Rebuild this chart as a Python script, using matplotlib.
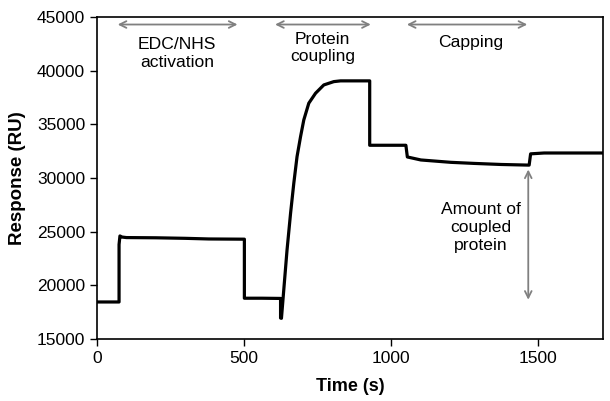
import matplotlib.pyplot as plt

plt.rcParams['font.family'] = ['Liberation Sans', 'DejaVu Sans']

# sensorgram trace (time in s, response in RU)
time = [0, 75, 75, 78, 85, 100, 200, 300, 380, 501, 501, 560, 624, 624, 627,
        633, 646, 658, 669, 680, 692, 703, 720, 743, 771, 805, 828,
        927, 927, 1050, 1055, 1101, 1203, 1282, 1374, 1469, 1474, 1520, 1720]
response = [18450, 18450, 23800, 24600, 24500, 24450, 24430, 24380, 24320, 24300,
            18800, 18800, 18780, 16950, 16930,
            18940, 23290, 26710, 29510, 31990, 33860, 35410, 36970, 37900, 38670,
            38980, 39050, 39050,
            33050, 33050, 31960, 31680, 31460, 31360, 31260, 31200, 32250, 32330, 32330]

# phase annotations
phases = ["EDC/NHS\nactivation", "Protein\ncoupling", "Capping"]
phase_start = [61, 596, 1044]
phase_end = [487, 940, 1472]
phase_text_x = [273, 767, 1271]
phase_text_y = [41600, 42100, 42600]

fig = plt.figure(figsize=(6.1, 4.01), dpi=100)
ax = fig.add_axes([0.159, 0.1546, 0.8295, 0.803])
ax.plot(time, response, color='black', lw=2.3, solid_joinstyle='round')

arrow_style = dict(arrowstyle='<->', color='#808080', lw=1.3, mutation_scale=12)
for label, s, e, tx, ty in zip(phases, phase_start, phase_end, phase_text_x, phase_text_y):
    ax.annotate('', xy=(s, 44300), xytext=(e, 44300), arrowprops=arrow_style)
    ax.text(tx, ty, label, ha='center', va='center', fontsize=12.6, linespacing=1.2)

ax.annotate('', xy=(1466, 31050), xytext=(1466, 18400), arrowprops=arrow_style)
ax.text(1305, 25400, "Amount of\ncoupled\nprotein", ha='center', va='center',
        fontsize=12.6, linespacing=1.25)

ax.set_xlim(0, 1720)
ax.set_ylim(15000, 45000)
ax.set_xticks([0, 500, 1000, 1500])
ax.set_yticks(range(15000, 45001, 5000))
ax.tick_params(labelsize=12.5, length=5, width=1, direction='out')
ax.set_xlabel("Time (s)", fontsize=13, fontweight='bold', labelpad=9)
ax.set_ylabel("Response (RU)", fontsize=13.5, fontweight='bold', labelpad=8)
for sp in ax.spines.values():
    sp.set_linewidth(1.2)

fig.savefig('out.png', dpi=100)
